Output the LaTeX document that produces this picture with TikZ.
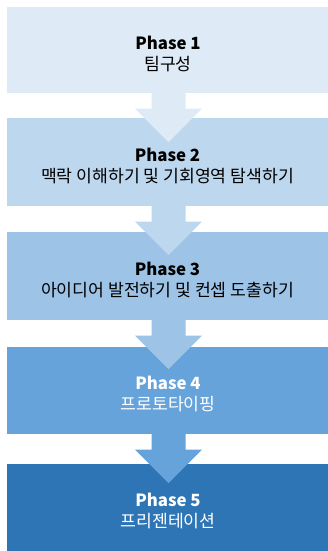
\documentclass[tikz,border=0pt]{standalone}
\usepackage{fontspec}
\setmainfont{Noto Sans CJK KR}
\usetikzlibrary{calc}
\definecolor{cA}{HTML}{DEEBF7}
\definecolor{cB}{HTML}{BDD7EE}
\definecolor{cC}{HTML}{9DC3E6}
\definecolor{cD}{HTML}{66A3DA}
\definecolor{cE}{HTML}{2E75B6}
\newcommand\ptitle[1]{{\fontsize{16.8}{21}\selectfont\bfseries #1}}
\newcommand\psub[1]{{\fontsize{17.2}{21}\selectfont #1}}
\tikzset{
  phasebox/.style={rectangle, draw=none, inner sep=0pt, minimum width=321pt},
  phasetext/.style={inner sep=0pt, align=center, font=\fontsize{17}{21}\selectfont},
}
\newcommand\blockarrow[2]{%
  \fill[#2] ($(#1.south)+(-16pt,0)$) -- ($(#1.south)+(18pt,0)$)
    -- ($(#1.south)+(18pt,-15.5pt)$) -- ($(#1.south)+(34.5pt,-15.5pt)$)
    -- ($(#1.south)+(1pt,-49pt)$) -- ($(#1.south)+(-32.5pt,-15.5pt)$)
    -- ($(#1.south)+(-16pt,-15.5pt)$) -- cycle;}
\begin{document}
\begin{tikzpicture}[x=1pt,y=1pt]
\useasboundingbox (0,0) rectangle (328,-551);
\node[phasebox, fill=cA, minimum height=86pt] (b1) at (167.5,-50) {};
\node[phasebox, fill=cB, minimum height=88pt] (b2) at (167.5,-162) {};
\node[phasebox, fill=cC, minimum height=88pt] (b3) at (167.5,-276) {};
\node[phasebox, fill=cD, minimum height=87pt] (b4) at (167.5,-390.5) {};
\node[phasebox, fill=cE, minimum height=87pt] (b5) at (167.5,-507.5) {};
\blockarrow{b1}{cA}
\blockarrow{b2}{cB}
\blockarrow{b3}{cC}
\blockarrow{b4}{cD}
\node[phasetext] (t1) at ($(b1.center)+(0.5,-3.5)$) {\ptitle{Phase 1}\\\psub{팀구성}};
\node[phasetext] (t2) at ($(b2.center)+(0,-3.5)$) {\ptitle{Phase 2}\\\psub{맥락 이해하기 및 기회영역 탐색하기}};
\node[phasetext] (t3) at ($(b3.center)+(0,-3.5)$) {\ptitle{Phase 3}\\\psub{아이디어 발전하기 및 컨셉 도출하기}};
\node[phasetext, text=white] (t4) at ($(b4.center)+(0.5,-3.5)$) {\ptitle{Phase 4}\\\psub{프로토타이핑}};
\node[phasetext, text=white] (t5) at ($(b5.center)+(0.5,-3.5)$) {\ptitle{Phase 5}\\\psub{프리젠테이션}};
\end{tikzpicture}
\end{document}
